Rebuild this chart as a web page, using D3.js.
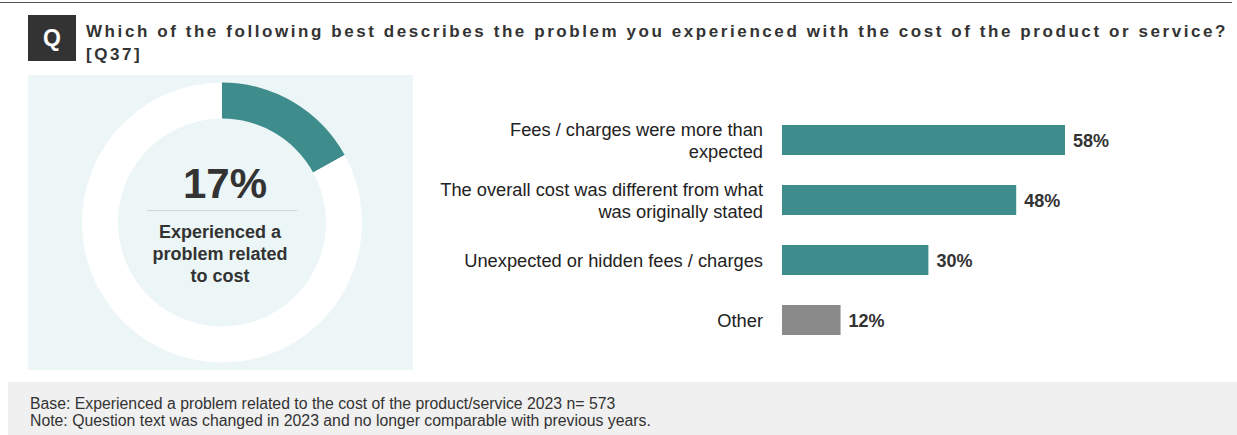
<!DOCTYPE html>
<html>
<head>
<meta charset="utf-8">
<script src="https://cdn.jsdelivr.net/npm/d3@7"></script>
<style>
  html, body { margin: 0; padding: 0; background: #fff; }
  svg { display: block; font-family: "Liberation Sans", Arial, Helvetica, sans-serif; }
</style>
</head>
<body>
<svg id="chart" width="1237" height="435"></svg>
<script>
// Survey question and summary figure
const questionLines = [
  "Which of the following best describes the problem you experienced with the cost of the product or service?",
  "[Q37]"
];
const headlineShare = 17;
const headlineLabel = ["Experienced a", "problem related", "to cost"];

// Breakdown of cost problems
const categories = [
  ["Fees / charges were more than", "expected"],
  ["The overall cost was different from what", "was originally stated"],
  ["Unexpected or hidden fees / charges"],
  ["Other"]
];
const values = [58, 48, 30, 12];
const isOther = [false, false, false, true];

const footnotes = [
  "Base: Experienced a problem related to the cost of the product/service 2023 n= 573",
  "Note: Question text was changed in 2023 and no longer comparable with previous years."
];

const teal = "#3e8d8c";
const grey = "#8a8a8a";
const panelBg = "#ecf6f7";
const textDark = "#333333";

const svg = d3.select("#chart");

// top rule
svg.append("line")
  .attr("x1", 0).attr("x2", 1232).attr("y1", 2.5).attr("y2", 2.5)
  .attr("stroke", "#555").attr("stroke-width", 1.2);

// Q badge
svg.append("rect").attr("x", 28).attr("y", 15).attr("width", 48).attr("height", 46).attr("fill", "#333");
svg.append("text").attr("x", 52).attr("y", 46).attr("text-anchor", "middle")
  .attr("fill", "#fff").attr("font-weight", "bold").attr("font-size", 23).text("Q");

// question text with widened tracking
const title = svg.append("g").attr("fill", textDark).attr("font-weight", "bold").attr("font-size", 17);
const t1 = title.append("text").attr("x", 86).attr("y", 37).text(questionLines[0]);
const natural = t1.node().getComputedTextLength();
const spacing = (1142 - natural) / questionLines[0].length;
t1.attr("letter-spacing", spacing);
title.append("text").attr("x", 86).attr("y", 60).attr("letter-spacing", spacing).text(questionLines[1]);

// left panel with donut
svg.append("rect").attr("x", 28).attr("y", 75).attr("width", 385).attr("height", 295).attr("fill", panelBg);

const cx = 222, cy = 222.5;
const donut = svg.append("g").attr("transform", `translate(${cx},${cy})`);
const pie = d3.pie().sort(null).value(d => d.v);
const arc = d3.arc().innerRadius(104).outerRadius(140);
const slices = pie([{ v: headlineShare, c: teal }, { v: 100 - headlineShare, c: "#ffffff" }]);
donut.selectAll("path").data(slices).join("path")
  .attr("d", arc).attr("fill", d => d.data.c);

donut.append("text").attr("x", 3).attr("y", -25).attr("text-anchor", "middle")
  .attr("fill", textDark).attr("font-weight", "bold").attr("font-size", 42)
  .text(headlineShare + "%");
donut.append("line").attr("x1", -75).attr("x2", 75).attr("y1", -12).attr("y2", -12)
  .attr("stroke", "#cfd6d7").attr("stroke-width", 1);
donut.append("g").selectAll("text").data(headlineLabel).join("text")
  .attr("x", -2)
  .attr("y", (d, i) => 15.5 + i * 22).attr("text-anchor", "middle")
  .attr("fill", textDark).attr("font-weight", "bold").attr("font-size", 18)
  .text(d => d);

// bar chart
const x0 = 782;
const x = d3.scaleLinear().domain([0, 58]).range([0, 283]);
const y = d3.scaleBand().domain(d3.range(values.length)).range([110, 350]).paddingInner(0.5).paddingOuter(0.25);

const bars = svg.append("g");
bars.selectAll("rect").data(values).join("rect")
  .attr("x", x0)
  .attr("y", (d, i) => y(i))
  .attr("width", d => x(d))
  .attr("height", y.bandwidth())
  .attr("fill", (d, i) => isOther[i] ? grey : teal);

bars.selectAll("text.val").data(values).join("text")
  .attr("class", "val")
  .attr("x", d => x0 + x(d) + 8)
  .attr("y", (d, i) => y(i) + y.bandwidth() / 2 + 6.5)
  .attr("fill", textDark).attr("font-weight", "bold").attr("font-size", 18)
  .text(d => d + "%");

const lineH = 22;
const labels = bars.selectAll("text.cat").data(categories).join("text")
  .attr("class", "cat")
  .attr("text-anchor", "end")
  .attr("fill", "#222").attr("font-size", 18.3);
labels.each(function (lines, i) {
  const mid = y(i) + y.bandwidth() / 2;
  d3.select(this).selectAll("tspan").data(lines).join("tspan")
    .attr("x", 763)
    .attr("y", (d, j) => mid + 6.5 + (j - (lines.length - 1) / 2) * lineH)
    .text(d => d);
});

// footnote band
svg.append("rect").attr("x", 8).attr("y", 382).attr("width", 1229).attr("height", 53).attr("fill", "#f0f0f0");
svg.append("g").selectAll("text").data(footnotes).join("text")
  .attr("x", 30).attr("y", (d, i) => 409 + i * 17)
  .attr("fill", "#333").attr("font-size", 15.8)
  .text(d => d);
</script>
</body>
</html>
